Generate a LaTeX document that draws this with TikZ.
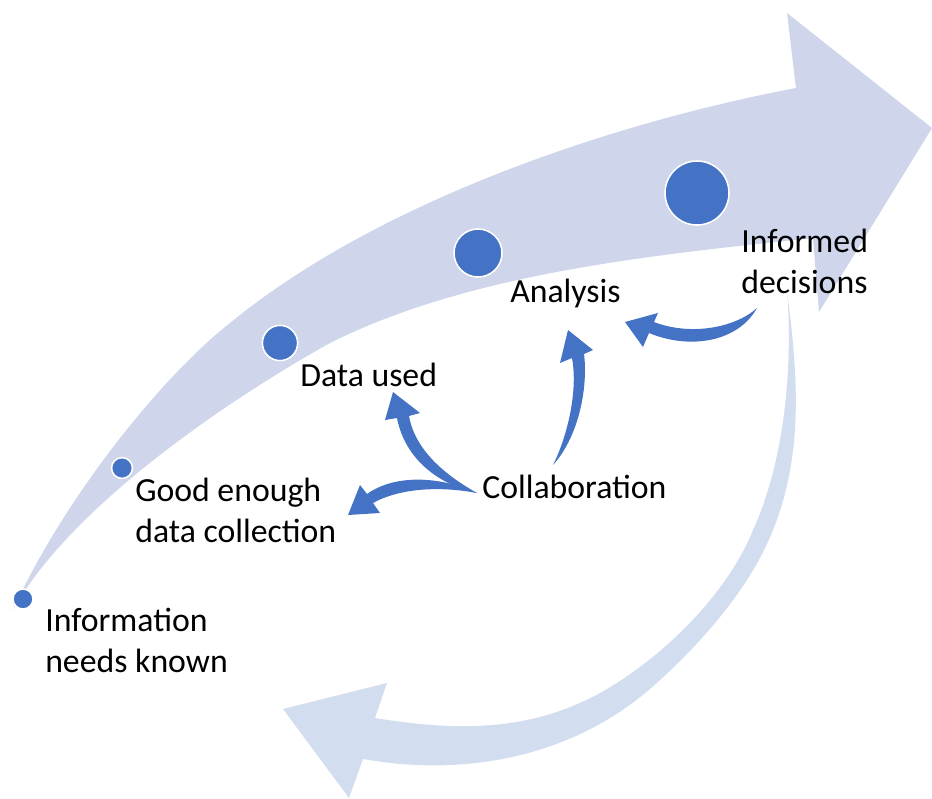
\documentclass[tikz,border=0pt]{standalone}
\usepackage{fontspec}
\setmainfont{Carlito}
\usepackage{tikz}
\usetikzlibrary{positioning,calc}
\definecolor{pasek}{RGB}{207,213,234}
\definecolor{powrot}{RGB}{210,222,239}
\definecolor{niebieski}{RGB}{68,114,196}

\begin{document}
\begin{tikzpicture}[x=0.025cm, y=-0.025cm]
\tikzset{
    %kropki na pasku
    dot/.style={
           circle, inner sep=0pt,
           fill=niebieski, draw=white,
           line width=1.1pt},
    %napisy
    stage/.style={
           font=\fontsize{24}{28.5}\selectfont,
           align=left, inner sep=0pt,
           anchor=base west},
    %strzalki
    curl/.style={fill=niebieski}
}
\useasboundingbox (0,0) rectangle (932,798);

%Pasek
\fill[pasek] (13,610) .. controls (63,500) and (160,378) .. (230,323)
    .. controls (380,200) and (616,122) .. (796,88)
    -- (787,13) -- (932,128) -- (819,312) -- (813,238)
    .. controls (653,255) and (470,273) .. (330,343)
    .. controls (240,393) and (73,502) .. (13,610) -- cycle;

%Powrot
\fill[powrot] (787,290) .. controls (797,370) and (805,450) .. (773,530)
    .. controls (751,586) and (704,640) .. (660,680)
    .. controls (580,755) and (470,778) .. (363,759)
    -- (349,798) -- (283,709) -- (387,683) -- (375,718)
    .. controls (450,730) and (525,734) .. (600,693)
    .. controls (661,659) and (727,595) .. (753,530)
    .. controls (785,460) and (793,365) .. (787,290) -- cycle;

%Kropki
\node(k1) [dot, minimum size=0.5cm]  at (23,599) {};
\node(k2) [dot, minimum size=0.52cm] at (122,468) {};
\node(k3) [dot, minimum size=0.88cm] at (280,343) {};
\node(k4) [dot, minimum size=1.2cm]  at (478,253) {};
\node(k5) [dot, minimum size=1.6cm]  at (697,193) {};

%Napisy
\node(info)    [stage] at (45,672)  {Information\\needs known};
\node(collect) [stage] at (135,542) {Good enough\\data collection};
\node(used)    [stage] at (300,386) {Data used};
\node(anal)    [stage] at (510,302) {Analysis};
\node(decis)   [stage] at (741,293) {Informed\\decisions};
\node(collab)  [stage] at (482,498) {Collaboration};

%Konce strzalek
\coordinate (tailA) at (553,465);
\coordinate (tailB) at (757,308);
\coordinate (tailC) at ($(collab.base west)+(-5,-5)$);
\coordinate (tipA) at (568,330);
\coordinate (tipB) at (625,322);
\coordinate (tipC) at (393,392);
\coordinate (tipD) at (348,515);

%Strzalki
\fill[curl] (tailA) .. controls (568,435) and (578,390) .. (572,358) -- (560,363) -- (tipA) -- (593,350) -- (584,354) .. controls (588,385) and (580,435) .. (tailA) -- cycle;
\fill[curl] (tailB) .. controls (735,328) and (690,336) .. (654,322) -- (658,313) -- (tipB) -- (643,347) -- (649,333) .. controls (690,350) and (738,342) .. (tailB) -- cycle;
\fill[curl] (tailC) .. controls (440,485) and (405,460) .. (397,418) -- (385,420) -- (tipC) -- (420,413) -- (409,416) .. controls (415,450) and (445,475) .. (tailC) -- cycle;
\fill[curl] (tailC) .. controls (440,476) and (395,474) .. (367,494) -- (360,485) -- (tipD) -- (380,513) -- (373,503) .. controls (400,488) and (440,486) .. (tailC) -- cycle;
\end{tikzpicture}
\end{document}
